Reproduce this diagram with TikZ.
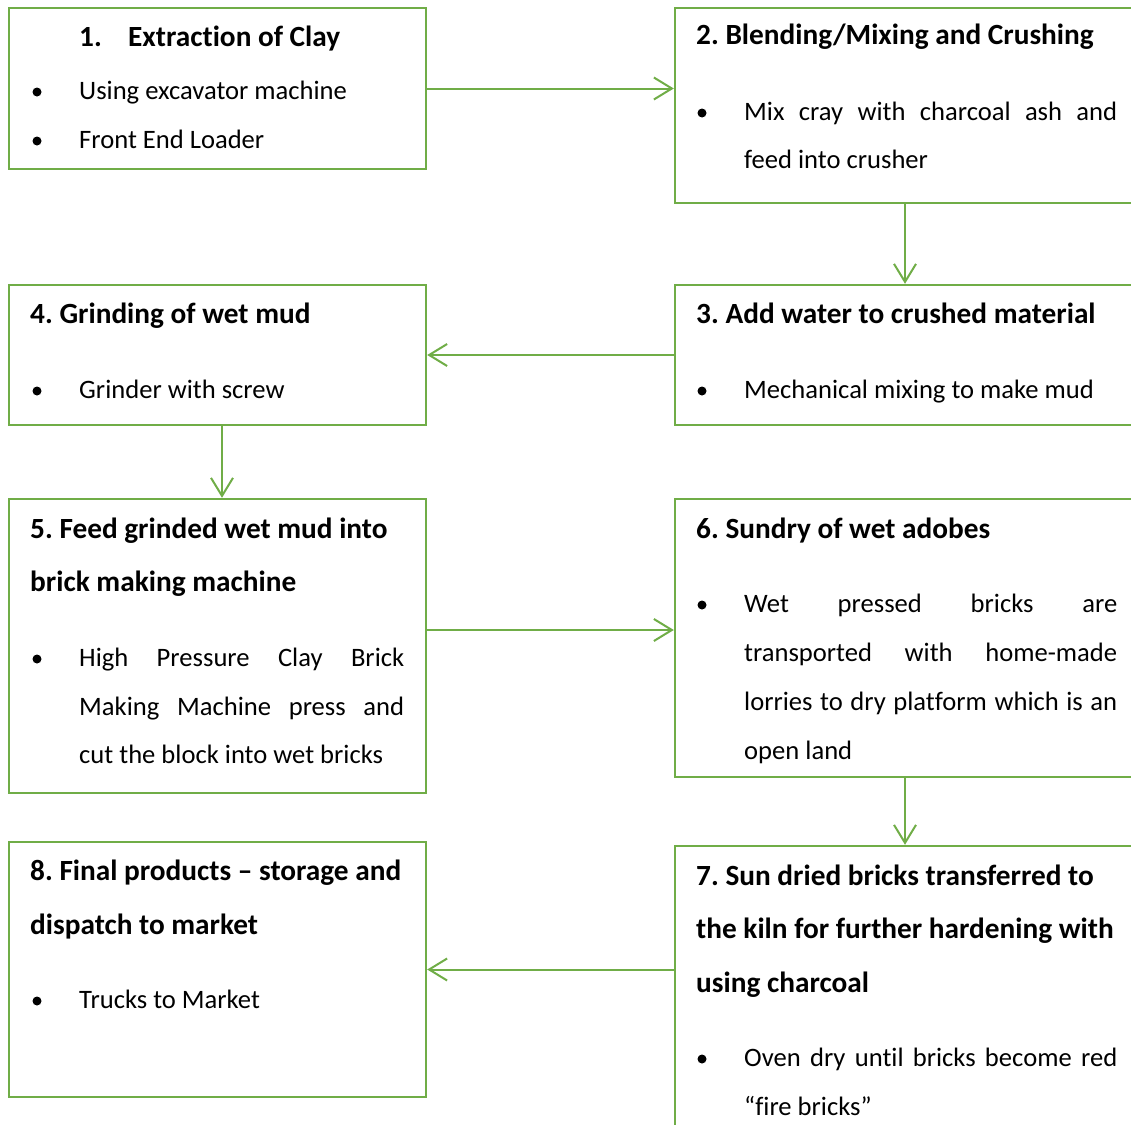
\documentclass[tikz,border=0pt]{standalone}
\usepackage{fontspec}
\setmainfont{Carlito}[Ligatures=NoCommon]
\usetikzlibrary{arrows.meta}
\definecolor{stepgreen}{RGB}{112,173,71}
\frenchspacing

\begin{document}
\begin{tikzpicture}[x=1pt,y=1pt,
  box/.style={draw=stepgreen,line width=2.4pt,inner sep=0pt,rectangle},
  txt/.style={anchor=base west,inner sep=0pt,font=\fontsize{26.6}{30}\selectfont},
  hd/.style={txt,font=\fontsize{29.3}{32}\selectfont\bfseries},
  dot/.style={circle,fill=black,inner sep=0pt,minimum size=9pt},
  flow/.style={draw=stepgreen,line width=2pt,-{Straight Barb[length=18pt,width=22pt]}}]
\clip (0,0) rectangle (1131,-1124);
% boxes
\node[box,minimum width=417,minimum height=161] (s1) at (217.5,-88.5) {};
\node[box,minimum width=460,minimum height=195] (s2) at (905,-105.5) {};
\node[box,minimum width=460,minimum height=140] (s3) at (905,-355) {};
\node[box,minimum width=417,minimum height=140] (s4) at (217.5,-355) {};
\node[box,minimum width=417,minimum height=294] (s5) at (217.5,-646) {};
\node[box,minimum width=460,minimum height=278] (s6) at (905,-638) {};
\node[box,minimum width=460,minimum height=284] (s7) at (905,-988) {};
\node[box,minimum width=417,minimum height=255] (s8) at (217.5,-969.5) {};
% texts, box 1
\node[hd] (h1) at (79,-46) {\makebox[49pt][l]{1.}Extraction of Clay};
\node[dot] (d1a) at (37,-92) {};
\node[txt] (p1a) at (79,-99) {Using excavator machine};
\node[dot] (d1b) at (37,-141) {};
\node[txt] (p1b) at (79,-148) {Front End Loader};
% box 2
\node[hd] (h2) at (696,-45) {2. Blending/Mixing and Crushing};
\node[dot] (d2) at (702,-113) {};
\node[txt] (p2a) at (744,-120) {\makebox[373pt][s]{Mix cray with charcoal ash and}};
\node[txt] (p2b) at (744,-168) {feed into crusher};
% box 3
\node[hd] (h3) at (696,-323) {3. Add water to crushed material};
\node[dot] (d3) at (702,-391) {};
\node[txt] (p3) at (744,-398) {Mechanical mixing to make mud};
% box 4
\node[hd] (h4) at (30,-323) {4. Grinding of wet mud};
\node[dot] (d4) at (37,-391) {};
\node[txt] (p4) at (79,-398) {Grinder with screw};
% box 5
\node[hd] (h5a) at (30,-538) {5. Feed grinded wet mud into};
\node[hd] (h5b) at (30,-591) {brick making machine};
\node[dot] (d5) at (37,-659) {};
\node[txt] (p5a) at (79,-666) {\makebox[325pt][s]{High Pressure Clay Brick}};
\node[txt] (p5b) at (79,-715) {\makebox[325pt][s]{Making Machine press and}};
\node[txt] (p5c) at (79,-763) {cut the block into wet bricks};
% box 6
\node[hd] (h6) at (696,-538) {6. Sundry of wet adobes};
\node[dot] (d6) at (702,-605) {};
\node[txt] (p6a) at (744,-612) {\makebox[373pt][s]{Wet pressed bricks are}};
\node[txt] (p6b) at (744,-661) {\makebox[373pt][s]{transported with home-made}};
\node[txt] (p6c) at (744,-710) {\makebox[373pt][s]{lorries to dry platform which is an}};
\node[txt] (p6d) at (744,-759) {open land};
% box 7
\node[hd] (h7a) at (696,-885) {7. Sun dried bricks transferred to};
\node[hd] (h7b) at (696,-938) {the kiln for further hardening with};
\node[hd] (h7c) at (696,-992) {using charcoal};
\node[dot] (d7) at (702,-1059) {};
\node[txt] (p7a) at (744,-1066) {\makebox[373pt][s]{Oven dry until bricks become red}};
\node[txt] (p7b) at (744,-1115) {“fire bricks”};
% box 8
\node[hd] (h8a) at (30,-880) {8. Final products – storage and};
\node[hd] (h8b) at (30,-934) {dispatch to market};
\node[dot] (d8) at (37,-1001) {};
\node[txt] (p8) at (79,-1008) {Trucks to Market};
% arrows
\coordinate (c45) at ([xshift=4.5pt]s4.south);
\coordinate (c56) at ([yshift=16pt]s5.east);
\draw[flow] (s1.east) -- (s1.east -| s2.west);
\draw[flow] (s2.south) -- (s3.north);
\draw[flow] (s3.west) -- (s4.east);
\draw[flow] (c45) -- (c45 |- s5.north);
\draw[flow] (c56) -- (c56 -| s6.west);
\draw[flow] (s6.south) -- (s7.north);
\draw[flow] (s7.west |- s8.east) -- (s8.east);
\end{tikzpicture}
\end{document}
